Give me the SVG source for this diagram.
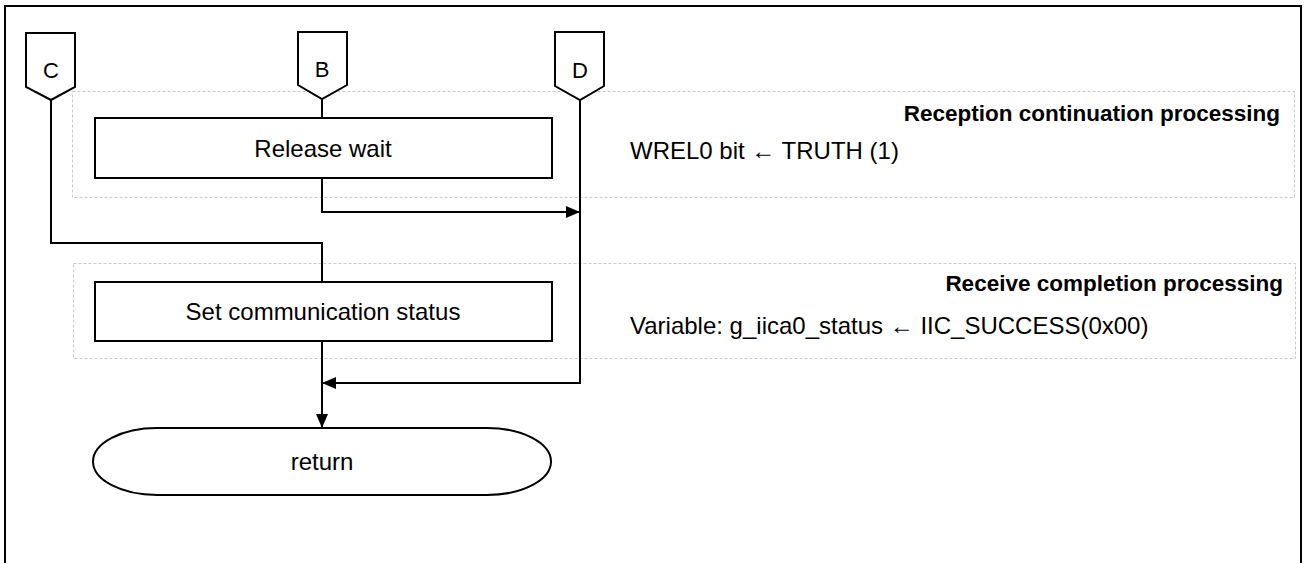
<svg xmlns="http://www.w3.org/2000/svg" width="1308" height="563" viewBox="0 0 1308 563">
<defs>
<style>
.ln{fill:none;stroke:#000;stroke-width:2}
.bx{fill:#fff;stroke:#000;stroke-width:2}
.dash{fill:none;stroke:#c8c8c8;stroke-width:1;stroke-dasharray:3,2}
.t{font-family:"Liberation Sans",Arial,sans-serif;font-size:24px;fill:#000}
.h{font-size:22.5px}
.k{font-size:22px}
.c{text-anchor:middle}
.b{font-weight:bold;text-anchor:end}
</style>
<marker id="ah" markerWidth="14" markerHeight="12" refX="14" refY="6" orient="auto" markerUnits="userSpaceOnUse">
<path d="M0,0 L14,6 L0,12 Z" fill="#000"/>
</marker>
</defs>
<rect width="1308" height="563" fill="#fff"/>
<path d="M5,563 V6 H1301 V563" class="ln"/>
<g id="regions">
<rect x="72.5" y="91.5" width="1222" height="106" class="dash"/>
<rect x="73.5" y="263.5" width="1222" height="95" class="dash"/>
<text class="t h b" x="1280" y="121">Reception continuation processing</text>
<text class="t" x="630" y="159">WREL0 bit ← TRUTH (1)</text>
<text class="t h b" x="1283" y="291">Receive completion processing</text>
<text class="t" x="630" y="334">Variable: g_iica0_status ← IIC_SUCCESS(0x00)</text>
</g>
<g id="connectors">
<path d="M322,99 V118" class="ln"/>
<path d="M322,178 V212 H580" class="ln" marker-end="url(#ah)"/>
<path d="M51,100 V243 H322 V282" class="ln"/>
<path d="M580,100 V383 H322" class="ln" marker-end="url(#ah)"/>
<path d="M322,341 V428" class="ln" marker-end="url(#ah)"/>
</g>
<g id="C">
<path d="M26,33 H75 V87 L51,100 L26,87 Z" class="bx"/>
<text class="t k c" x="51" y="78">C</text>
</g>
<g id="B">
<path d="M298,32 H347 V85 L322,99 L298,85 Z" class="bx"/>
<text class="t k c" x="322" y="77">B</text>
</g>
<g id="D">
<path d="M555,32 H604 V86 L580,100 L555,86 Z" class="bx"/>
<text class="t k c" x="580" y="78">D</text>
</g>
<g id="release">
<rect x="95" y="118" width="457" height="60" class="bx"/>
<text class="t c" x="323" y="157">Release wait</text>
</g>
<g id="setstatus">
<rect x="95" y="282" width="457" height="59" class="bx"/>
<text class="t c" x="323" y="320">Set communication status</text>
</g>
<g id="return">
<rect x="93" y="428" width="458" height="67" rx="64" ry="33.5" class="bx"/>
<text class="t c" x="322" y="470">return</text>
</g>
</svg>
